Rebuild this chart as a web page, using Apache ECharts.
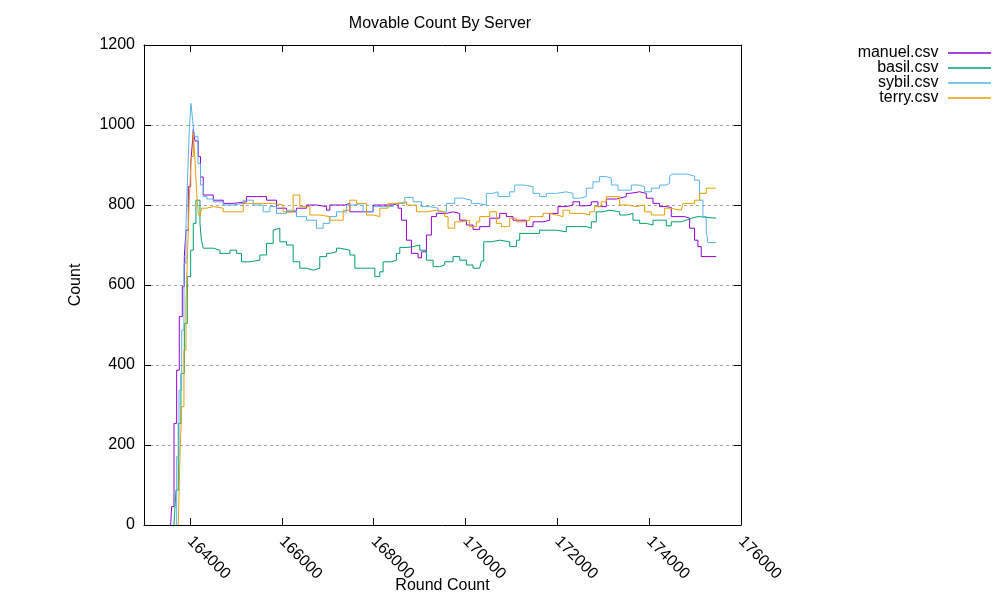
<!DOCTYPE html>
<html>
<head>
<meta charset="utf-8">
<script src="https://cdn.jsdelivr.net/npm/echarts@6/dist/echarts.min.js"></script>
<style>
html,body{margin:0;padding:0;background:#fff;}
#chart{width:1000px;height:600px;}
</style>
</head>
<body>
<div id="chart"></div>
<script>
const titleText = 'Movable Count By Server';
const seriesNames = ['manuel.csv', 'basil.csv', 'sybil.csv', 'terry.csv'];
const xTickValues = [164000, 166000, 168000, 170000, 172000, 174000, 176000];

const manuelRounds = [163580,163602,163653,163711,163768,163834,163878,163914,163965,164016,164059,164073,164110,164182,164230,164290,
  164508,164726,164943,165233,165451,165668,165886,166103,166321,166538,166756,166973,
  167047,167192,167373,167482,167700,167990,168207,168425,168533,168606,168715,168823,168968,169041,169150,169258,169367,169585,169730,169875,170020,170165,170310,
  170529,170746,170891,171036,171181,171326,171471,171689,171834,172015,172196,172341,172486,172631,172740,172885,
  173068,173284,173358,173501,173576,173793,173938,174083,174228,174373,174482,174772,174881,174989,175062,175134,175460];
const manuelCounts = [0,46,254,387,521,596,671,737,846,904,962,990,960,921,870,825,
  812,804,808,821,821,812,792,783,792,800,796,787,
  800,800,804,783,783,800,800,804,792,762,712,679,668,683,725,771,779,783,779,762,750,739,746,
  767,779,771,762,762,746,758,762,779,796,800,808,798,800,808,796,
  815,817,821,829,833,829,817,804,796,794,771,767,742,712,696,671,671];

const basilRounds = [163653,163696,163747,163805,163878,163943,164016,164073,164131,164219,164250,164291,
  164436,164508,164653,164871,165016,165124,165306,165523,165668,165813,165850,165958,166103,166248,166393,166538,166683,166828,166973,167046,
  167192,167265,167482,167591,167772,167953,168026,168135,168207,168388,168497,168570,168751,168860,169005,169150,169295,169440,169548,169730,169875,170020,170165,170310,
  170347,170398,170565,170746,170964,171109,171181,171399,171616,171761,171979,172196,172414,172631,172740,172849,172994,
  173140,173358,173503,173648,173793,173938,174083,174228,174373,174482,174699,174808,174917,175062,175460];
const basilCounts = [0,87,254,379,504,621,687,754,812,754,712,692,
  692,687,679,687,679,658,662,675,704,737,742,708,700,658,642,637,642,671,679,683,
  692,687,675,642,642,642,621,633,658,662,679,694,696,700,687,662,646,650,658,671,662,650,642,646,
  660,708,712,708,696,712,729,729,737,737,733,746,746,742,758,783,787,
  783,775,779,762,754,750,762,762,748,758,762,767,771,767,767];

const sybilRounds = [163660,163711,163762,163820,163870,163914,163950,163986,164023,164059,164095,164175,164230,164290,164370,
  164508,164726,164943,165161,165378,165596,165741,165886,166103,166321,166538,166756,166901,167046,
  167192,167410,167555,167772,167990,168207,168425,168678,168860,169041,169222,169403,169585,169766,169947,170128,170273,
  170456,170601,170710,170819,170964,171072,171254,171471,171616,171761,171979,172196,172341,172486,172631,172776,172921,
  173068,173177,173322,173467,173612,173757,173902,174047,174228,174373,174446,174482,174663,174844,174989,175098,175171,175243,175279,175460];
const sybilCounts = [0,171,337,487,654,754,871,987,1054,1012,971,904,850,821,815,
  808,800,804,812,800,783,796,779,787,771,762,742,754,771,
  783,800,804,783,796,796,804,819,808,796,792,783,804,817,812,804,800,
  829,833,821,821,833,850,846,829,821,829,833,829,817,821,842,858,871,
  867,850,837,837,850,846,833,842,850,854,871,877,877,872,862,812,771,737,706,706];

const terryRounds = [163747,163783,163820,163870,163914,163950,163986,164029,164073,164110,164147,164182,164218,164254,
  164363,164508,164726,164943,165161,165378,165596,165813,166031,166248,166393,166611,166828,167046,
  167192,167337,167482,167627,167845,167990,168135,168316,168497,168715,168932,169150,169367,169548,169621,169766,169911,170092,170237,
  170311,170529,170674,170782,170964,171109,171254,171399,171544,171689,171834,171979,172124,172269,172414,172559,172704,172812,172957,
  173068,173213,173358,173539,173721,173902,174047,174192,174337,174446,174699,174736,174881,174989,175098,175243,175460];
const terryCounts = [0,171,296,437,554,687,812,921,979,912,829,779,771,792,
  796,792,783,783,804,804,804,800,783,825,796,775,771,762,
  762,787,812,804,775,771,792,804,808,800,783,787,783,771,742,758,762,746,758,
  771,783,754,746,767,758,762,771,771,779,775,771,787,779,779,775,783,796,808,
  821,821,800,796,800,783,775,775,792,787,787,804,804,812,829,842,842];

const colors = ['#9400d3', '#009e73', '#56b4e9', '#e69f00'];
const roundsList = [manuelRounds, basilRounds, sybilRounds, terryRounds];
const countsList = [manuelCounts, basilCounts, sybilCounts, terryCounts];

const font = 'Liberation Sans, Arial, sans-serif';
const chart = echarts.init(document.getElementById('chart'), null, {renderer: 'canvas'});

const series = seriesNames.map((name, k) => ({
  name: name,
  type: 'line',
  step: 'end',
  symbol: 'none',
  showSymbol: false,
  animation: false,
  lineStyle: {color: colors[k], width: 1},
  itemStyle: {color: colors[k]},
  emphasis: {disabled: true},
  data: roundsList[k].map((r, i) => [r, countsList[k][i]])
}));

const legendCenters = [53, 68, 83, 98];
const legends = seriesNames.map((name, k) => ({
  data: [{name: name, icon: 'rect', itemStyle: {color: colors[k]}}],
  orient: 'vertical',
  right: 9,
  top: legendCenters[k] - 8,
  padding: 0,
  align: 'right',
  itemWidth: 43,
  itemHeight: 1.5,
  selectedMode: false,
  formatter: n => n + ' ',
  textStyle: {fontFamily: font, fontSize: 16, color: '#000'}
}));

chart.setOption({
  animation: false,
  backgroundColor: '#fff',
  title: {
    text: titleText,
    left: 435,
    textAlign: 'center',
    top: 11,
    textStyle: {fontFamily: font, fontSize: 16, fontWeight: 'normal', color: '#000'}
  },
  legend: legends,
  grid: {left: 144, right: 259, top: 45, bottom: 75, containLabel: false, outerBoundsMode: 'none'},
  xAxis: [{
    type: 'value',
    min: 163000, max: 176000, interval: 1000,
    position: 'bottom',
    name: 'Round Count',
    nameLocation: 'middle',
    nameGap: 53,
    nameMoveOverlap: false,
    nameTextStyle: {fontFamily: font, fontSize: 16, color: '#000'},
    axisLine: {show: true, onZero: false, lineStyle: {color: '#000', width: 1}},
    axisTick: {show: true, inside: true, length: 7, customValues: xTickValues, lineStyle: {color: '#000'}},
    axisLabel: {show: true, rotate: -45, margin: 14, customValues: xTickValues, fontFamily: font, fontSize: 16, color: '#000', formatter: v => String(v)},
    splitLine: {show: false}
  }, {
    type: 'value',
    min: 163000, max: 176000, interval: 1000,
    position: 'top',
    axisLine: {show: true, onZero: false, lineStyle: {color: '#000', width: 1}},
    axisTick: {show: true, inside: true, length: 7, customValues: xTickValues, lineStyle: {color: '#000'}},
    axisLabel: {show: false},
    splitLine: {show: false}
  }],
  yAxis: [{
    type: 'value',
    min: 0, max: 1200, interval: 200,
    position: 'left',
    name: 'Count',
    nameLocation: 'middle',
    nameGap: 60,
    nameMoveOverlap: false,
    nameRotate: 90,
    nameTextStyle: {fontFamily: font, fontSize: 16, color: '#000'},
    axisLine: {show: true, onZero: false, lineStyle: {color: '#000', width: 1}},
    axisTick: {show: true, inside: true, length: 7, lineStyle: {color: '#000'}},
    axisLabel: {show: true, margin: 9, fontFamily: font, fontSize: 16, color: '#000', formatter: v => String(v)},
    splitLine: {show: true, lineStyle: {color: '#a0a0a0', width: 1, type: [3, 3]}}
  }, {
    type: 'value',
    min: 0, max: 1200, interval: 200,
    position: 'right',
    axisLine: {show: true, onZero: false, lineStyle: {color: '#000', width: 1}},
    axisTick: {show: true, inside: true, length: 7, lineStyle: {color: '#000'}},
    axisLabel: {show: false},
    splitLine: {show: false}
  }],
  series: series
});
</script>
</body>
</html>
